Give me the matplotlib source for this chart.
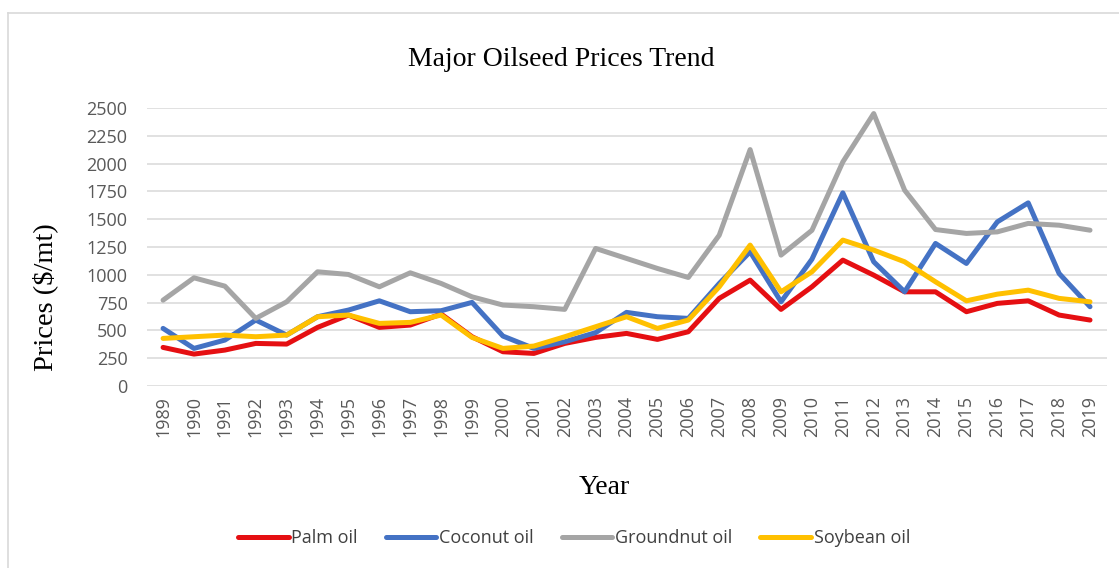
import numpy as np
import matplotlib
matplotlib.use('Agg')
import matplotlib.pyplot as plt
from matplotlib.lines import Line2D

# data
years = [str(y) for y in range(1989, 2020)]
palm = [347, 287, 323, 383, 377, 527, 638, 527, 548, 647, 443,
        308, 293, 383, 437, 473, 419, 488, 788, 952, 689, 892,
        1132, 997, 847, 847, 668, 743, 766, 638, 593]
coconut = [518, 338, 413, 593, 458, 623, 683, 766, 668, 677, 752,
           449, 338, 398, 480, 662, 623, 608, 922, 1207, 757, 1140,
           1737, 1117, 847, 1282, 1102, 1476, 1647, 1012, 713]
groundnut = [772, 973, 898, 608, 757, 1027, 1003, 892, 1018, 922, 802,
             728, 713, 689, 1237, 1147, 1057, 976, 1356, 2126, 1177, 1400,
             2015, 2450, 1761, 1407, 1372, 1386, 1462, 1446, 1401]
soybean = [428, 443, 458, 443, 458, 623, 638, 563, 572, 638, 437,
           338, 359, 443, 533, 623, 518, 593, 892, 1267, 847, 1027,
           1312, 1222, 1117, 937, 766, 826, 862, 788, 757]
yticks = [0, 250, 500, 750, 1000, 1250, 1500, 1750, 2000, 2250, 2500]

W, H = 1119, 568
fig = plt.figure(figsize=(W/100, H/100), dpi=100)
ax = fig.add_axes([147/W, 1-386/H, 960/W, 278/H])

x = np.arange(len(years))
ax.plot(x, palm, color='#E50F12', lw=3.6, label='Palm oil', solid_capstyle='round')
ax.plot(x, coconut, color='#4472C4', lw=3.6, label='Coconut oil', solid_capstyle='round')
ax.plot(x, groundnut, color='#A5A5A5', lw=3.6, label='Groundnut oil', solid_capstyle='round')
ax.plot(x, soybean, color='#FFC000', lw=3.6, label='Soybean oil', solid_capstyle='round')

ax.set_xlim(-0.52, 30.55)
ax.set_ylim(0, 2500)
ax.set_yticks(yticks)
ax.set_yticklabels([str(v) for v in yticks], fontfamily='Open Sans', fontsize=13, color='#595959')
ax.set_xticks(x)
ax.set_xticklabels(years, rotation=90, fontfamily='Open Sans', fontsize=13, color='#595959')
ax.tick_params(axis='both', length=0)
ax.tick_params(axis='y', pad=14)
ax.tick_params(axis='x', pad=7)
ax.grid(axis='y', color='#D9D9D9', lw=1.1)
ax.set_axisbelow(True)
for s in ax.spines.values():
    s.set_visible(False)

fig.text(561/W, 1-60/H, 'Major Oilseed Prices Trend', fontfamily='Liberation Serif',
         fontsize=20, ha='center', va='center')
fig.text(45/W, 1-297/H, 'Prices ($/mt)', fontfamily='Liberation Serif',
         fontsize=20.5, rotation=90, ha='center', va='center')
fig.text(604/W, 1-487/H, 'Year', fontfamily='Liberation Serif',
         fontsize=20, ha='center', va='center')

leg = fig.legend(loc='center', bbox_to_anchor=(574/W, 1-538/H), ncol=4, frameon=False,
                 prop={'family': 'Open Sans', 'size': 13}, handlelength=2.8,
                 handletextpad=0.15, columnspacing=1.55)
for t in leg.get_texts():
    t.set_color('#404040')

# outer chart border (only the top and left edge are visible)
fig.add_artist(Line2D([8/W, 8/W], [0, 1-13/H], color='#D9D9D9', lw=1.2))
fig.add_artist(Line2D([8/W, 1], [1-13/H, 1-13/H], color='#D9D9D9', lw=1.2))

fig.savefig('out.png', dpi=100)
